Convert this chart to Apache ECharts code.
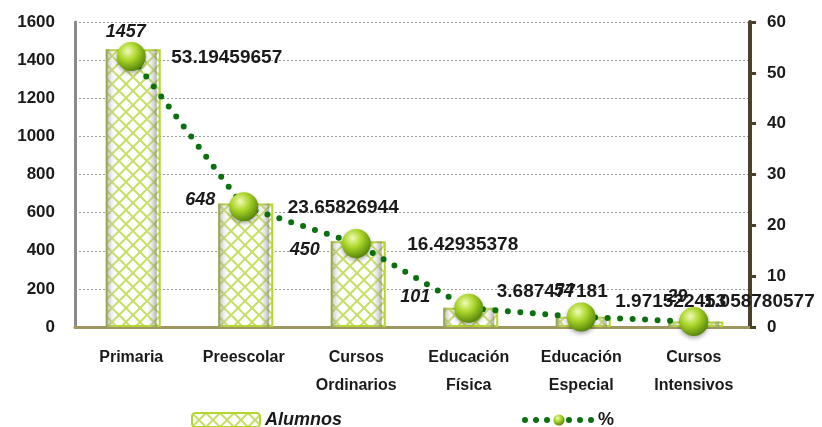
<!DOCTYPE html>
<html>
<head>
<meta charset="utf-8">
<script src="https://cdn.jsdelivr.net/npm/echarts@6/dist/echarts.min.js"></script>
<style>
  html, body { margin: 0; padding: 0; background: #fff; }
  #chart { width: 822px; height: 427px; }
</style>
</head>
<body>
<div id="chart"></div>
<script>
// datos
var categorias = ['Primaria', 'Preescolar', 'Cursos\nOrdinarios', 'Educación\nFísica', 'Educación\nEspecial', 'Cursos\nIntensivos'];
var alumnos = [1457, 648, 450, 101, 54, 29];
var porcentaje = [53.19459657, 23.65826944, 16.42935378, 3.687477181, 1.971522453, 1.058780577];

// posiciones de etiquetas (como en la hoja original)
var posAlumnos = [[20, -17], [-18, -3], [-26, 9], [-28, -11], [8, -26], [9, -24]];
var posPorc = [[40, 1], [44, 1], [51, 1], [28, -16], [34, -15], [10, -20]];

var chart = echarts.init(document.getElementById('chart'));

// trama de las barras
function trama() {
  var c = document.createElement('canvas');
  c.width = 14; c.height = 14;
  var ctx = c.getContext('2d');
  ctx.fillStyle = '#ffffff';
  ctx.fillRect(0, 0, 14, 14);
  ctx.strokeStyle = '#c6df66';
  ctx.lineWidth = 2;
  ctx.beginPath();
  ctx.moveTo(-1, 15); ctx.lineTo(15, -1);
  ctx.moveTo(-1, -1); ctx.lineTo(15, 15);
  ctx.stroke();
  return c;
}

var esfera = new echarts.graphic.RadialGradient(0.38, 0.32, 0.7, [
  { offset: 0, color: '#f0fab8' },
  { offset: 0.45, color: '#abd62a' },
  { offset: 1, color: '#558509' }
]);

var fuente = 'Liberation Sans, Arial, sans-serif';

var option = {
  animation: false,
  grid: { left: 75, right: 72, top: 22, bottom: 100 },
  legend: {
    left: 186, top: 406,
    itemWidth: 68, itemHeight: 14, itemGap: 180,
    textStyle: { fontFamily: fuente, fontWeight: 'bold', fontSize: 18, color: '#1a1a1a' },
    data: [
      { name: 'Alumnos', textStyle: { fontStyle: 'italic' } },
      { name: '%', lineStyle: { color: '#0b7010', width: 6, type: [0, 11], cap: 'round' } }
    ]
  },
  xAxis: {
    type: 'category',
    data: categorias,
    axisLine: { lineStyle: { color: '#a09760', width: 3 } },
    axisTick: { show: false },
    axisLabel: {
      interval: 0, margin: 17, lineHeight: 28,
      fontFamily: fuente,
      fontWeight: 'bold', fontSize: 16, color: '#1a1a1a'
    }
  },
  yAxis: [
    {
      type: 'value', min: 0, max: 1600, interval: 200,
      axisLine: { show: true, lineStyle: { color: '#8a8a8a', width: 3 } },
      axisTick: { show: false },
      axisLabel: {
        margin: 20, fontFamily: fuente, fontWeight: 'bold', fontSize: 17, color: '#1a1a1a',
        formatter: function (v) { return String(v); }
      },
      splitLine: { lineStyle: { color: '#9a9a9a', type: [2, 2], width: 1 } }
    },
    {
      type: 'value', min: 0, max: 60, interval: 10, position: 'right',
      axisLine: { show: true, lineStyle: { color: '#4a4228', width: 4 } },
      axisTick: { show: true, length: 6, lineStyle: { color: '#4a4228', width: 3 } },
      axisLabel: { margin: 17, fontFamily: fuente, fontWeight: 'bold', fontSize: 17, color: '#1a1a1a' },
      splitLine: { show: false }
    }
  ],
  series: [
    {
      name: 'Alumnos',
      type: 'bar',
      barWidth: 55,
      data: alumnos.map(function (v, i) {
        return { value: v, label: { position: posAlumnos[i] } };
      }),
      itemStyle: {
        color: { image: trama(), repeat: 'repeat' },
        borderColor: '#b5d531',
        borderWidth: 2
      },
      label: {
        show: true, align: 'center', verticalAlign: 'middle',
        fontFamily: fuente, fontStyle: 'italic', fontWeight: 'bold', fontSize: 18, color: '#1a1a1a'
      }
    },
    {
      name: 'sombra',
      type: 'bar',
      barWidth: 51,
      barGap: '-100%',
      silent: true,
      data: alumnos,
      itemStyle: {
        color: new echarts.graphic.LinearGradient(0, 0, 1, 0, [
          { offset: 0, color: 'rgba(110,110,110,0.55)' },
          { offset: 0.22, color: 'rgba(255,255,255,0)' },
          { offset: 0.78, color: 'rgba(255,255,255,0)' },
          { offset: 1, color: 'rgba(110,110,110,0.55)' }
        ])
      }
    },
    {
      name: '%',
      type: 'line',
      yAxisIndex: 1,
      z: 5,
      data: porcentaje.map(function (v, i) {
        return { value: v, label: { position: [posPorc[i][0] + 14.5, posPorc[i][1] + 14.5] } };
      }),
      symbol: 'circle',
      symbolSize: 29,
      itemStyle: { color: esfera, shadowBlur: 4, shadowColor: 'rgba(0,0,0,0.35)', shadowOffsetY: 2 },
      lineStyle: { color: '#0b7010', width: 6, type: [0, 12.5], cap: 'round' },
      label: {
        show: true, align: 'left', verticalAlign: 'middle',
        fontFamily: fuente, fontWeight: 'bold', fontSize: 19, color: '#1a1a1a'
      }
    }
  ]
};

chart.setOption(option);
</script>
</body>
</html>
